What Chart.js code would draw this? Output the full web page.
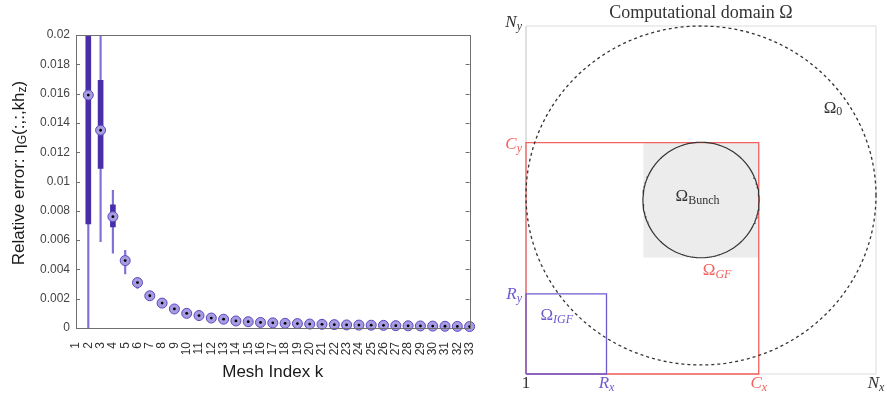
<!DOCTYPE html>
<html>
<head>
<meta charset="utf-8">
<script src="https://cdn.jsdelivr.net/npm/chart.js@4.4.1/dist/chart.umd.min.js"></script>
<style>
  html, body { margin: 0; padding: 0; background: #fff; }
  #left { position: absolute; left: 0; top: 0; }
  #right { position: absolute; left: 490px; top: 0; }
</style>
</head>
<body>
<canvas id="left" width="490" height="393"></canvas>
<canvas id="right" width="397" height="393"></canvas>
<script>
// ---- left panel data: relative error per mesh index ----
const meshIndex = [2, 3, 4, 5, 6, 7, 8, 9, 10, 11, 12, 13, 14, 15, 16, 17, 18, 19, 20, 21, 22, 23, 24, 25, 26, 27, 28, 29, 30, 31, 32, 33];
const medianError = [0.0159, 0.0135, 0.0076, 0.0046, 0.0031, 0.0022, 0.0017, 0.0013, 0.0010, 0.00085, 0.00068, 0.0006, 0.00048, 0.00043, 0.00038, 0.00035, 0.00032, 0.0003, 0.00027, 0.00025, 0.00023, 0.00021, 0.0002, 0.00019, 0.00018, 0.00016, 0.00015, 0.00014, 0.00013, 0.00012, 0.00011, 0.0001];

// boxes (thick) and whiskers (thin) for the first meshes
const boxIndex = [2, 3, 4, 5];
const boxLow = [0.0071, 0.0109, 0.0069, 0.0044];
const boxHigh = [0.0210, 0.0169, 0.0084, 0.0049];
const whiskerIndex = [2, 3, 4, 5, 6];
const whiskerLow = [0, 0.0059, 0.0051, 0.0037, 0.0027];
const whiskerHigh = [0.0210, 0.0210, 0.0094, 0.0053, 0.0034];

const yTicks = [0, 0.002, 0.004, 0.006, 0.008, 0.01, 0.012, 0.014, 0.016, 0.018, 0.02];

// ---- right panel geometry (grid units, 1..N mapped to 0..100) ----
const domainN = [0, 100];
const rectC = [66.5, 66.5];      // Cx, Cy
const rectR = [23, 23];          // Rx, Ry
const bunchBox = [33.5, 66.5];   // grey square extent (x and y)
const bunchCircle = [50, 50, 16.6];        // cx, cy, r
const omega0 = [50, 51.3, 50, 48.7];       // cx, cy, rx, ry

const boxColor = '#4a2da8';
const whiskerColor = '#7f70d6';
const sans = '"Liberation Sans", Arial, sans-serif';

const frameTicks = {
  id: 'frameTicks',
  afterDraw(chart) {
    const ctx = chart.ctx;
    const a = chart.chartArea;
    const y = chart.scales.y;
    ctx.save();
    ctx.strokeStyle = '#6f6f6f';
    ctx.lineWidth = 1;
    ctx.strokeRect(Math.round(a.left) + 0.5, Math.round(a.top) + 0.5, Math.round(a.right - a.left), Math.round(a.bottom - a.top));
    yTicks.forEach(v => {
      const py = Math.round(y.getPixelForValue(v)) + 0.5;
      ctx.beginPath();
      ctx.moveTo(a.left, py); ctx.lineTo(a.left + 4, py);
      ctx.moveTo(a.right, py); ctx.lineTo(a.right - 4, py);
      ctx.stroke();
    });
    // axis titles
    ctx.fillStyle = '#1a1a1a';
    ctx.textBaseline = 'middle';
    ctx.textAlign = 'center';
    ctx.font = '17px ' + sans;
    ctx.fillText('Mesh Index k', (a.left + a.right) / 2, 372);
    ctx.translate(19, 173);
    ctx.rotate(-Math.PI / 2);
    drawRich(ctx, [
      { t: 'Relative error: η', f: '17px ' + sans },
      { t: 'G', f: '12px ' + sans, dy: 4 },
      { t: '(:,:,kh', f: '17px ' + sans },
      { t: 'z', f: '12px ' + sans, dy: 4 },
      { t: ')', f: '17px ' + sans }
    ], 0, 0, 'center');
    ctx.restore();
  }
};

function drawRich(ctx, parts, x, y, align) {
  let w = 0;
  parts.forEach(p => { ctx.font = p.f; p.w = ctx.measureText(p.t).width; w += p.w; });
  let px = align === 'center' ? x - w / 2 : (align === 'right' ? x - w : x);
  const prev = ctx.textAlign;
  ctx.textAlign = 'left';
  parts.forEach(p => {
    ctx.font = p.f;
    ctx.fillText(p.t, px, y + (p.dy || 0));
    px += p.w;
  });
  ctx.textAlign = prev;
}

new Chart(document.getElementById('left'), {
  type: 'bar',
  data: {
    datasets: [
      {
        type: 'bar',
        data: whiskerIndex.map((k, i) => ({ x: k, y: [whiskerLow[i], whiskerHigh[i]] })),
        backgroundColor: whiskerColor,
        barThickness: 1.5,
        grouped: false,
        order: 3
      },
      {
        type: 'bar',
        data: boxIndex.map((k, i) => ({ x: k, y: [boxLow[i], boxHigh[i]] })),
        backgroundColor: boxColor,
        barThickness: 5,
        grouped: false,
        order: 2
      },
      {
        type: 'line',
        showLine: false,
        clip: false,
        data: meshIndex.map((k, i) => ({ x: k, y: medianError[i] })),
        pointRadius: 5,
        pointBackgroundColor: '#a79ce2',
        pointBorderColor: '#5a48bd',
        pointBorderWidth: 1,
        order: 1
      },
      {
        type: 'line',
        showLine: false,
        clip: false,
        data: meshIndex.map((k, i) => ({ x: k, y: medianError[i] })),
        pointRadius: 1.4,
        pointBackgroundColor: '#000',
        pointBorderWidth: 0,
        order: 0
      }
    ]
  },
  options: {
    responsive: false,
    animation: false,
    events: [],
    layout: { padding: { left: 0, top: 35, right: 15, bottom: 0 } },
    plugins: { legend: { display: false }, tooltip: { enabled: false } },
    scales: {
      x: {
        type: 'linear', min: 1, max: 33, offset: false,
        grid: { display: false },
        border: { display: false },
        afterFit: s => { s.height = 65; },
        afterBuildTicks: s => { s.ticks = []; for (let k = 1; k <= 33; k++) s.ticks.push({ value: k }); },
        ticks: {
          autoSkip: false, minRotation: 90, maxRotation: 90, padding: 6,
          color: '#333', font: { family: sans, size: 12 }
        }
      },
      y: {
        min: 0, max: 0.02,
        grid: { display: false, drawTicks: false },
        border: { display: false },
        afterFit: s => { s.width = 76; },
        afterBuildTicks: s => { s.ticks = yTicks.map(v => ({ value: v })); },
        ticks: {
          padding: 6, color: '#444',
          font: { family: sans, size: 12 },
          callback: v => String(parseFloat(v.toFixed(3)))
        }
      }
    }
  },
  plugins: [frameTicks]
});

// ---- right panel ----
function rectPts(x0, y0, x1, y1) {
  return [{ x: x0, y: y0 }, { x: x1, y: y0 }, { x: x1, y: y1 }, { x: x0, y: y1 }, { x: x0, y: y0 }];
}
function ellipsePts(cx, cy, rx, ry) {
  const pts = [];
  for (let i = 0; i <= 180; i++) {
    const t = i / 180 * 2 * Math.PI;
    pts.push({ x: cx + rx * Math.cos(t), y: cy + ry * Math.sin(t) });
  }
  return pts;
}

const serif = '"Liberation Serif", "DejaVu Serif", serif';
const red = '#f2625f';
const blue = '#6c5bd0';

const diagramLabels = {
  id: 'diagramLabels',
  afterDraw(chart) {
    const ctx = chart.ctx;
    const sx = chart.scales.x, sy = chart.scales.y;
    const X = v => sx.getPixelForValue(v), Y = v => sy.getPixelForValue(v);
    const big = '17px ' + serif, it = 'italic 17px ' + serif, sub = 'italic 12px ' + serif, subU = '12px ' + serif;
    ctx.save();
    ctx.textBaseline = 'middle';
    const L = (parts, x, y, align, color) => { ctx.fillStyle = color; drawRich(ctx, parts, x, y, align); };
    L([{ t: 'Computational domain Ω', f: '18px ' + serif }], X(50), 13, 'center', '#333');
    L([{ t: 'N', f: it }, { t: 'y', f: sub, dy: 4 }], X(0) - 4, Y(100) - 3, 'right', '#333');
    L([{ t: 'Ω', f: big }, { t: '0', f: subU, dy: 4 }], X(87.7), Y(76.4), 'center', '#333');
    L([{ t: 'C', f: it }, { t: 'y', f: sub, dy: 4 }], X(0) - 4, Y(rectC[1]) + 2, 'right', red);
    L([{ t: 'Ω', f: big }, { t: 'Bunch', f: subU, dy: 4 }], X(49), Y(51), 'center', '#333');
    L([{ t: 'Ω', f: big }, { t: 'GF', f: sub, dy: 4 }], X(54.6), Y(29.6), 'center', red);
    L([{ t: 'R', f: it }, { t: 'y', f: sub, dy: 4 }], X(0) - 4, Y(rectR[1]) + 1, 'right', blue);
    L([{ t: 'Ω', f: big }, { t: 'IGF', f: sub, dy: 4 }], X(8.8), Y(16.7), 'center', blue);
    L([{ t: '1', f: big }], X(0), Y(0) + 10, 'center', '#333');
    L([{ t: 'R', f: it }, { t: 'x', f: sub, dy: 4 }], X(rectR[0]), Y(0) + 10, 'center', blue);
    L([{ t: 'C', f: it }, { t: 'x', f: sub, dy: 4 }], X(rectC[0]), Y(0) + 10, 'center', red);
    L([{ t: 'N', f: it }, { t: 'x', f: sub, dy: 4 }], X(100), Y(0) + 10, 'center', '#333');
    ctx.restore();
  }
};

new Chart(document.getElementById('right'), {
  type: 'scatter',
  data: {
    datasets: [
      {
        data: [{ x: bunchBox[0], y: bunchBox[1] }, { x: bunchBox[1], y: bunchBox[1] }],
        showLine: true, borderWidth: 0, borderColor: 'rgba(0,0,0,0)',
        backgroundColor: '#ececec', fill: { value: bunchBox[0] }, pointRadius: 0, order: 10
      },
      {
        data: rectPts(domainN[0], domainN[0], domainN[1], domainN[1]),
        showLine: true, borderColor: '#dcdcdc', borderWidth: 1, pointRadius: 0, fill: false, order: 9
      },
      {
        data: rectPts(0, 0, rectC[0], rectC[1]),
        showLine: true, borderColor: red, borderWidth: 1.3, pointRadius: 0, fill: false, order: 8
      },
      {
        data: rectPts(0, 0, rectR[0], rectR[1]),
        showLine: true, borderColor: blue, borderWidth: 1.3, pointRadius: 0, fill: false, order: 7
      },
      {
        data: ellipsePts(bunchCircle[0], bunchCircle[1], bunchCircle[2], bunchCircle[2]),
        showLine: true, borderColor: '#333', borderWidth: 1.2, pointRadius: 0, fill: false, order: 6
      },
      {
        data: ellipsePts(omega0[0], omega0[1], omega0[2], omega0[3]),
        showLine: true, borderColor: '#333', borderWidth: 1.3, borderDash: [3, 3], pointRadius: 0, fill: false, order: 5
      }
    ]
  },
  options: {
    responsive: false,
    animation: false,
    events: [],
    clip: false,
    layout: { padding: { left: 36, right: 11, top: 26, bottom: 19 } },
    plugins: { legend: { display: false }, tooltip: { enabled: false } },
    scales: {
      x: { type: 'linear', min: 0, max: 100, display: false },
      y: { type: 'linear', min: 0, max: 100, display: false }
    }
  },
  plugins: [diagramLabels]
});
</script>
</body>
</html>
